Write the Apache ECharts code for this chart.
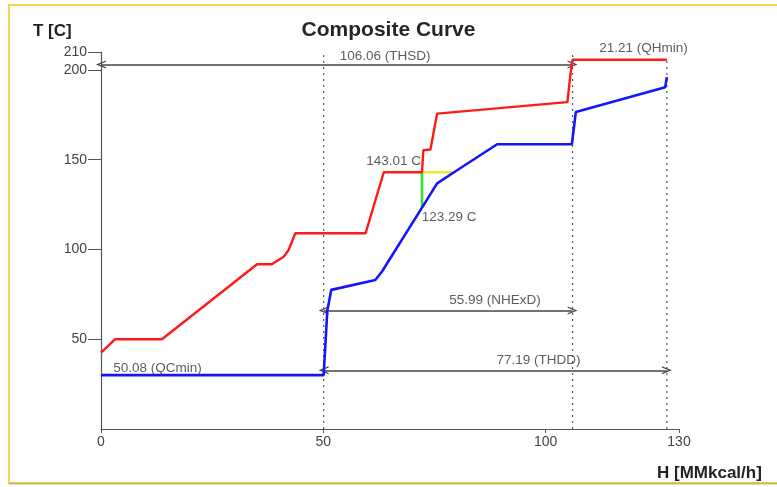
<!DOCTYPE html>
<html>
<head>
<meta charset="utf-8">
<script src="https://cdn.jsdelivr.net/npm/echarts@6/dist/echarts.min.js"></script>
<style>
  html, body { margin: 0; padding: 0; background: #ffffff; }
  #chart { width: 777px; height: 487px; }
</style>
</head>
<body>
<div id="chart"></div>
<script>
// Targets from the pinch analysis [MMkcal/h]
const QCMIN = 50.08;   // minimum cold utility
const QHMIN = 21.21;   // minimum hot utility
const THSD = 106.06;   // total heat supply of the hot streams
const NHEXD = 55.99;   // heat exchanged between process streams
const THDD = 77.19;    // total heat demand of the cold streams

// Pinch temperatures [C]
const PINCH_H = 72.2;
const PINCH_HOT_T = 143.01;
const PINCH_COLD_T = 123.29;
const COLD_AT_HOT_PINCH_H = 79.4;

// Hot composite curve (enthalpy, temperature)
const hotH = [0, 3.2, 13.7, 35.1, 38.4, 41.1, 42.2, 43.7, 59.5, 63.6, 72.2, 72.5, 74.1, 75.6, 104.9, 105.6, 106.06, 127.27];
const hotT = [42.5, 50, 50, 91.8, 91.8, 96, 99.7, 109, 109, 143.01, 143.01, 155.3, 155.7, 175.7, 182.1, 198, 205.7, 205.7];

// Cold composite curve (enthalpy, temperature)
const coldH = [0, 50.08, 50.9, 51.8, 61.7, 63.2, 72.2, 75.6, 79.4, 89.1, 105.9, 106.8, 126.9, 127.27];
const coldT = [30, 30, 66, 77.5, 83, 87.7, 123.29, 136.8, 143.01, 158.6, 158.6, 176.6, 190.4, 196];

// Axis ticks
const xTicks = [0, 50, 100, 130];
const yTicks = [50, 100, 150, 200, 210];

// Dimension arrows: start H, end H, temperature level
const arrowStart = [0, QCMIN, QCMIN];
const arrowEnd = [THSD, QCMIN + NHEXD, QCMIN + THDD];
const arrowT = [203, 66, 32.7];

// Vertical guide lines: H position, top temperature
const guideH = [QCMIN, THSD, THSD + QHMIN];
const guideTop = [210, 210, 205.7];

// Annotation texts and their anchor (H, T)
const noteText = [
  THSD.toFixed(2) + ' (THSD)',
  QHMIN.toFixed(2) + ' (QHmin)',
  NHEXD.toFixed(2) + ' (NHExD)',
  THDD.toFixed(2) + ' (THDD)',
  QCMIN.toFixed(2) + ' (QCmin)',
  PINCH_HOT_T.toFixed(2) + ' C',
  PINCH_COLD_T.toFixed(2) + ' C'
];
const noteH = [63.9, 122.0, 88.6, 98.4, 12.7, 65.8, 78.3];
const noteT = [207.5, 212.0, 71.6, 38.1, 33.6, 149.3, 118.2];

const zip = (a, b) => a.map((v, i) => [v, b[i]]);

const chart = echarts.init(document.getElementById('chart'), null, { renderer: 'canvas' });

const series = [];

guideH.forEach((h, i) => {
  series.push({
    type: 'line',
    data: [[h, 0], [h, guideTop[i]]],
    showSymbol: false,
    silent: true,
    z: 1,
    lineStyle: { color: '#555', width: 1.2, type: [2, 4] }
  });
});

series.push({
  name: 'Hot',
  type: 'line',
  data: zip(hotH, hotT),
  showSymbol: false,
  z: 5,
  lineStyle: { color: '#ff1a1a', width: 2.4 }
});

series.push({
  name: 'Cold',
  type: 'line',
  data: zip(coldH, coldT),
  showSymbol: false,
  z: 5,
  lineStyle: { color: '#1414ff', width: 2.6 }
});

// Pinch markers
series.push({
  type: 'line',
  data: [[PINCH_H, PINCH_HOT_T], [COLD_AT_HOT_PINCH_H, PINCH_HOT_T]],
  showSymbol: false,
  z: 4,
  lineStyle: { color: '#eeea1c', width: 2.5 }
});
series.push({
  type: 'line',
  data: [[PINCH_H, PINCH_COLD_T], [PINCH_H, PINCH_HOT_T]],
  showSymbol: false,
  z: 4,
  lineStyle: { color: '#33dd33', width: 2.6 }
});

// Annotation labels plus dimension arrows
const chevron = 'path://M5,0 L10,10 L8.4,10 L5,3.2 L1.6,10 L0,10 Z';
series.push({
  type: 'scatter',
  clip: false,
  silent: true,
  symbolSize: 1,
  itemStyle: { color: 'transparent' },
  z: 6,
  data: noteText.map((t, i) => ({ name: t, value: [noteH[i], noteT[i]] })),
  label: {
    show: true,
    position: 'inside',
    formatter: p => p.name,
    color: '#333',
    fontSize: 13.5,
    fontFamily: 'Liberation Sans, Arial, sans-serif'
  },
  markLine: {
    silent: true,
    animation: false,
    symbol: [chevron, chevron],
    symbolSize: [8, 10],
    label: { show: false },
    lineStyle: { color: '#444', width: 1.5, type: 'solid' },
    data: arrowStart.map((s, i) => [
      { coord: [s, arrowT[i]] },
      { coord: [arrowEnd[i], arrowT[i]] }
    ])
  }
});

const option = {
  animation: false,
  backgroundColor: '#ffffff',
  title: {
    text: 'Composite Curve',
    left: 'center',
    top: 15,
    textStyle: {
      fontFamily: 'Liberation Sans, Arial, sans-serif',
      fontSize: 21,
      fontWeight: 'bold',
      color: '#262626'
    }
  },
  grid: { left: 101, right: 98, top: 52, bottom: 58, containLabel: false },
  xAxis: {
    type: 'value',
    min: 0,
    max: 130,
    splitLine: { show: false },
    axisLine: { show: true, lineStyle: { color: '#555', width: 1.2 } },
    axisTick: { show: true, length: 4, customValues: xTicks, lineStyle: { color: '#555' } },
    axisLabel: {
      customValues: xTicks,
      margin: 6,
      color: '#444',
      fontSize: 14,
      fontFamily: 'Liberation Sans, Arial, sans-serif'
    }
  },
  yAxis: {
    type: 'value',
    min: 0,
    max: 210,
    splitLine: { show: false },
    axisLine: { show: true, lineStyle: { color: '#555', width: 1.2 } },
    axisTick: { show: true, length: 13, customValues: yTicks, lineStyle: { color: '#555' } },
    axisLabel: {
      customValues: yTicks,
      margin: 14,
      color: '#444',
      fontSize: 14,
      fontFamily: 'Liberation Sans, Arial, sans-serif'
    }
  },
  graphic: [
    {
      type: 'rect',
      silent: true,
      shape: { x: 9, y: 5, width: 820, height: 478 },
      style: { fill: 'none', stroke: '#f3d54e', lineWidth: 2 }
    },
    {
      type: 'line',
      silent: true,
      shape: { x1: 9, y1: 483.5, x2: 790, y2: 483.5 },
      style: { stroke: '#cdb66c', lineWidth: 2 }
    },
    {
      type: 'text',
      left: 33,
      top: 23,
      style: {
        text: 'T [C]',
        fill: '#222',
        font: 'bold 17px "Liberation Sans", Arial, sans-serif'
      }
    },
    {
      type: 'text',
      left: 657,
      top: 465,
      style: {
        text: 'H [MMkcal/h]',
        fill: '#222',
        font: 'bold 17px "Liberation Sans", Arial, sans-serif'
      }
    }
  ],
  series: series
};

chart.setOption(option);
</script>
</body>
</html>
